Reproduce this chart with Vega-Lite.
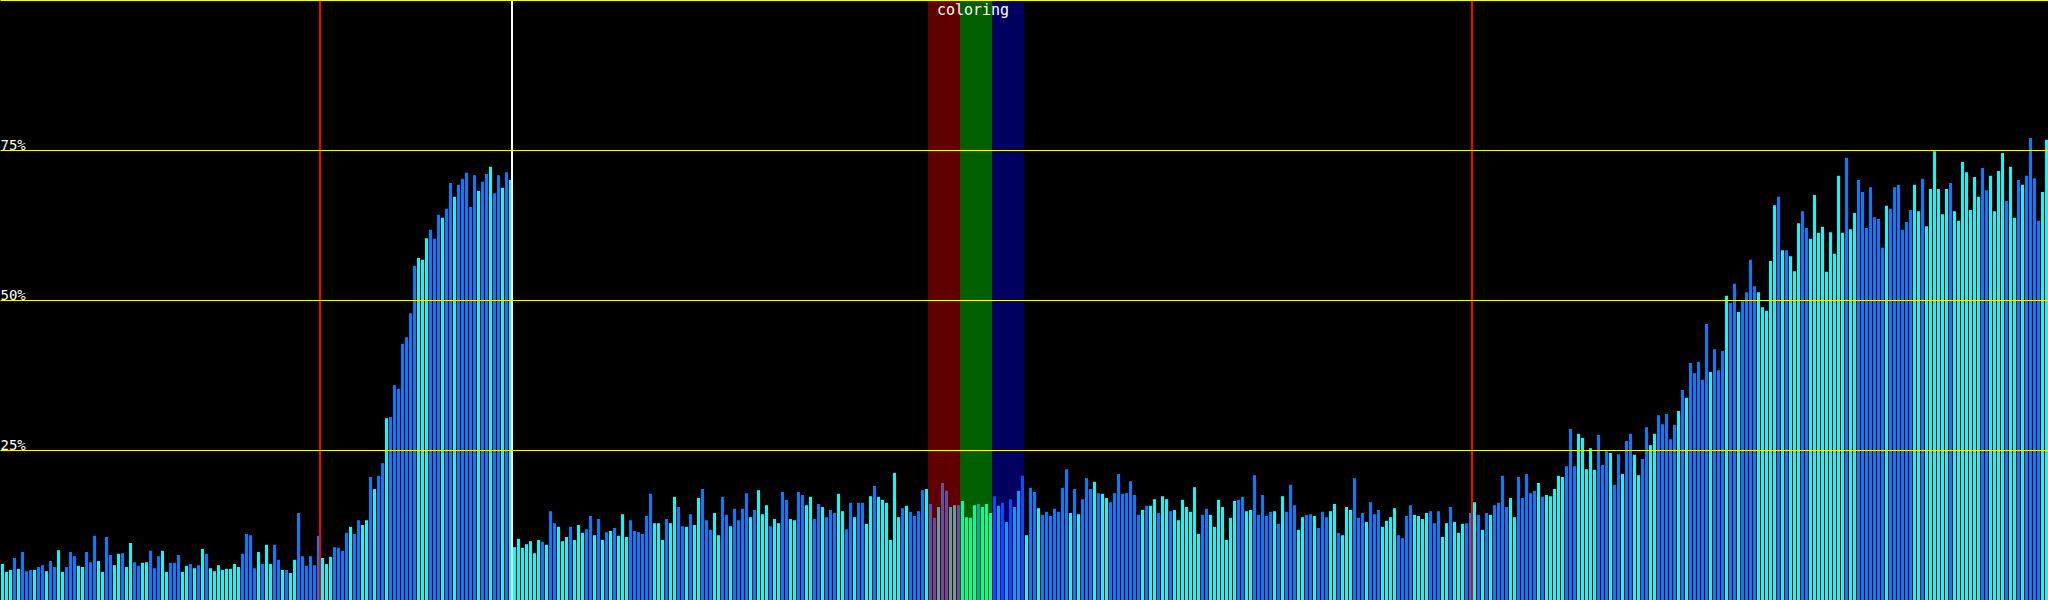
{
"$schema": "https://vega.github.io/schema/vega-lite/v6.json",
"width": 2048, "height": 600, "autosize": {"type": "none"}, "padding": 0,
"background": "#000000",
"config": {"view": {"stroke": null}},
"datasets": {
"bars": [
{"i":0,"v":6.0,"c":"C"},{"i":1,"v":4.7,"c":"C"},{"i":2,"v":5.0,"c":"C"},{"i":3,"v":7.0,"c":"B"},{"i":4,"v":5.2,"c":"C"},{"i":5,"v":8.0,"c":"B"},{"i":6,"v":4.8,"c":"B"},{"i":7,"v":5.0,"c":"B"},{"i":8,"v":5.0,"c":"C"},{"i":9,"v":5.5,"c":"B"},
{"i":10,"v":5.8,"c":"B"},{"i":11,"v":4.8,"c":"C"},{"i":12,"v":6.5,"c":"B"},{"i":13,"v":5.5,"c":"B"},{"i":14,"v":8.3,"c":"C"},{"i":15,"v":4.7,"c":"C"},{"i":16,"v":5.5,"c":"B"},{"i":17,"v":8.0,"c":"B"},{"i":18,"v":7.3,"c":"B"},{"i":19,"v":5.7,"c":"C"},
{"i":20,"v":5.5,"c":"C"},{"i":21,"v":8.0,"c":"B"},{"i":22,"v":6.3,"c":"B"},{"i":23,"v":10.7,"c":"B"},{"i":24,"v":6.5,"c":"C"},{"i":25,"v":4.7,"c":"C"},{"i":26,"v":10.5,"c":"B"},{"i":27,"v":7.5,"c":"B"},{"i":28,"v":5.8,"c":"C"},{"i":29,"v":7.7,"c":"C"},
{"i":30,"v":7.8,"c":"B"},{"i":31,"v":5.5,"c":"C"},{"i":32,"v":9.5,"c":"C"},{"i":33,"v":6.3,"c":"B"},{"i":34,"v":5.7,"c":"B"},{"i":35,"v":6.2,"c":"C"},{"i":36,"v":6.3,"c":"C"},{"i":37,"v":8.2,"c":"B"},{"i":38,"v":5.3,"c":"B"},{"i":39,"v":7.3,"c":"B"},
{"i":40,"v":8.2,"c":"C"},{"i":41,"v":4.7,"c":"C"},{"i":42,"v":6.2,"c":"B"},{"i":43,"v":6.2,"c":"B"},{"i":44,"v":7.5,"c":"B"},{"i":45,"v":4.7,"c":"C"},{"i":46,"v":5.7,"c":"C"},{"i":47,"v":6.0,"c":"B"},{"i":48,"v":5.3,"c":"C"},{"i":49,"v":5.8,"c":"B"},
{"i":50,"v":8.5,"c":"C"},{"i":51,"v":7.7,"c":"B"},{"i":52,"v":5.3,"c":"C"},{"i":53,"v":4.8,"c":"C"},{"i":54,"v":5.8,"c":"C"},{"i":55,"v":5.0,"c":"C"},{"i":56,"v":5.2,"c":"C"},{"i":57,"v":5.2,"c":"C"},{"i":58,"v":6.0,"c":"C"},{"i":59,"v":5.5,"c":"C"},
{"i":60,"v":7.7,"c":"B"},{"i":61,"v":11.0,"c":"B"},{"i":62,"v":10.8,"c":"B"},{"i":63,"v":5.3,"c":"B"},{"i":64,"v":8.0,"c":"C"},{"i":65,"v":6.0,"c":"B"},{"i":66,"v":9.2,"c":"C"},{"i":67,"v":6.0,"c":"C"},{"i":68,"v":9.2,"c":"B"},{"i":69,"v":6.7,"c":"B"},
{"i":70,"v":5.0,"c":"C"},{"i":71,"v":5.0,"c":"B"},{"i":72,"v":4.5,"c":"C"},{"i":73,"v":6.7,"c":"C"},{"i":74,"v":14.5,"c":"B"},{"i":75,"v":7.3,"c":"B"},{"i":76,"v":5.7,"c":"B"},{"i":77,"v":7.3,"c":"B"},{"i":78,"v":5.8,"c":"B"},{"i":79,"v":10.7,"c":"B"},
{"i":80,"v":7.0,"c":"C"},{"i":81,"v":6.0,"c":"C"},{"i":82,"v":7.2,"c":"C"},{"i":83,"v":8.8,"c":"B"},{"i":84,"v":8.7,"c":"B"},{"i":85,"v":8.2,"c":"B"},{"i":86,"v":11.2,"c":"B"},{"i":87,"v":12.2,"c":"C"},{"i":88,"v":11.0,"c":"B"},{"i":89,"v":13.3,"c":"B"},
{"i":90,"v":12.5,"c":"C"},{"i":91,"v":13.3,"c":"C"},{"i":92,"v":20.5,"c":"B"},{"i":93,"v":18.5,"c":"C"},{"i":94,"v":20.7,"c":"B"},{"i":95,"v":22.8,"c":"B"},{"i":96,"v":30.3,"c":"C"},{"i":97,"v":30.5,"c":"B"},{"i":98,"v":35.8,"c":"B"},{"i":99,"v":35.2,"c":"B"},
{"i":100,"v":42.7,"c":"B"},{"i":101,"v":43.8,"c":"B"},{"i":102,"v":47.8,"c":"B"},{"i":103,"v":55.7,"c":"B"},{"i":104,"v":57.0,"c":"C"},{"i":105,"v":56.7,"c":"C"},{"i":106,"v":60.3,"c":"C"},{"i":107,"v":61.7,"c":"B"},{"i":108,"v":60.2,"c":"B"},{"i":109,"v":64.2,"c":"B"},
{"i":110,"v":63.7,"c":"C"},{"i":111,"v":65.2,"c":"B"},{"i":112,"v":69.5,"c":"B"},{"i":113,"v":67.2,"c":"C"},{"i":114,"v":69.2,"c":"B"},{"i":115,"v":70.2,"c":"B"},{"i":116,"v":71.2,"c":"B"},{"i":117,"v":65.5,"c":"B"},{"i":118,"v":70.8,"c":"B"},{"i":119,"v":68.2,"c":"C"},
{"i":120,"v":69.7,"c":"B"},{"i":121,"v":71.0,"c":"B"},{"i":122,"v":72.2,"c":"C"},{"i":123,"v":67.8,"c":"B"},{"i":124,"v":70.8,"c":"B"},{"i":125,"v":68.7,"c":"C"},{"i":126,"v":71.3,"c":"B"},{"i":127,"v":70.0,"c":"C"},
{"i":128,"v":8.8,"c":"C"},{"i":129,"v":10.2,"c":"C"},{"i":130,"v":8.7,"c":"C"},{"i":131,"v":9.3,"c":"C"},{"i":132,"v":9.8,"c":"C"},{"i":133,"v":7.8,"c":"C"},{"i":134,"v":10.0,"c":"C"},{"i":135,"v":9.7,"c":"B"},{"i":136,"v":9.2,"c":"C"},{"i":137,"v":14.8,"c":"B"},
{"i":138,"v":12.8,"c":"B"},{"i":139,"v":12.2,"c":"C"},{"i":140,"v":9.8,"c":"C"},{"i":141,"v":10.5,"c":"C"},{"i":142,"v":12.2,"c":"B"},{"i":143,"v":10.0,"c":"C"},{"i":144,"v":12.5,"c":"C"},{"i":145,"v":11.2,"c":"C"},{"i":146,"v":11.8,"c":"B"},{"i":147,"v":14.0,"c":"B"},
{"i":148,"v":10.8,"c":"C"},{"i":149,"v":13.5,"c":"B"},{"i":150,"v":10.0,"c":"C"},{"i":151,"v":11.3,"c":"B"},{"i":152,"v":11.5,"c":"C"},{"i":153,"v":12.0,"c":"B"},{"i":154,"v":10.7,"c":"C"},{"i":155,"v":14.3,"c":"C"},{"i":156,"v":10.5,"c":"C"},{"i":157,"v":13.3,"c":"B"},
{"i":158,"v":11.5,"c":"B"},{"i":159,"v":11.3,"c":"B"},{"i":160,"v":11.0,"c":"B"},{"i":161,"v":14.0,"c":"B"},{"i":162,"v":17.7,"c":"B"},{"i":163,"v":12.8,"c":"C"},{"i":164,"v":12.8,"c":"C"},{"i":165,"v":10.0,"c":"C"},{"i":166,"v":13.5,"c":"B"},{"i":167,"v":12.8,"c":"C"},
{"i":168,"v":17.2,"c":"C"},{"i":169,"v":15.5,"c":"B"},{"i":170,"v":12.3,"c":"B"},{"i":171,"v":12.2,"c":"C"},{"i":172,"v":14.3,"c":"B"},{"i":173,"v":12.5,"c":"C"},{"i":174,"v":17.0,"c":"C"},{"i":175,"v":18.5,"c":"B"},{"i":176,"v":13.3,"c":"B"},{"i":177,"v":11.7,"c":"B"},
{"i":178,"v":14.5,"c":"C"},{"i":179,"v":10.8,"c":"C"},{"i":180,"v":17.2,"c":"B"},{"i":181,"v":14.2,"c":"B"},{"i":182,"v":12.3,"c":"C"},{"i":183,"v":15.2,"c":"B"},{"i":184,"v":13.3,"c":"B"},{"i":185,"v":15.2,"c":"B"},{"i":186,"v":17.8,"c":"B"},{"i":187,"v":13.8,"c":"C"},
{"i":188,"v":15.0,"c":"B"},{"i":189,"v":18.3,"c":"C"},{"i":190,"v":14.3,"c":"C"},{"i":191,"v":15.8,"c":"C"},{"i":192,"v":12.3,"c":"B"},{"i":193,"v":13.5,"c":"C"},{"i":194,"v":12.8,"c":"C"},{"i":195,"v":18.0,"c":"B"},{"i":196,"v":16.7,"c":"B"},{"i":197,"v":13.5,"c":"C"},
{"i":198,"v":13.3,"c":"C"},{"i":199,"v":18.0,"c":"B"},{"i":200,"v":17.5,"c":"B"},{"i":201,"v":15.8,"c":"C"},{"i":202,"v":17.2,"c":"C"},{"i":203,"v":13.5,"c":"B"},{"i":204,"v":16.0,"c":"B"},{"i":205,"v":15.5,"c":"C"},{"i":206,"v":13.8,"c":"B"},{"i":207,"v":15.0,"c":"B"},
{"i":208,"v":14.5,"c":"B"},{"i":209,"v":17.7,"c":"C"},{"i":210,"v":14.8,"c":"C"},{"i":211,"v":11.8,"c":"B"},{"i":212,"v":16.2,"c":"B"},{"i":213,"v":13.8,"c":"C"},{"i":214,"v":16.2,"c":"B"},{"i":215,"v":16.2,"c":"B"},{"i":216,"v":12.7,"c":"C"},{"i":217,"v":17.3,"c":"C"},
{"i":218,"v":19.0,"c":"B"},{"i":219,"v":17.2,"c":"C"},{"i":220,"v":16.7,"c":"C"},{"i":221,"v":16.2,"c":"C"},{"i":222,"v":10.0,"c":"C"},{"i":223,"v":21.2,"c":"C"},{"i":224,"v":13.8,"c":"C"},{"i":225,"v":15.3,"c":"B"},{"i":226,"v":15.7,"c":"C"},{"i":227,"v":14.7,"c":"B"},
{"i":228,"v":14.0,"c":"B"},{"i":229,"v":14.8,"c":"B"},{"i":230,"v":18.3,"c":"B"},{"i":231,"v":18.5,"c":"C"},{"i":232,"v":16.0,"c":"B"},{"i":233,"v":13.7,"c":"B"},{"i":234,"v":15.5,"c":"C"},{"i":235,"v":19.5,"c":"B"},{"i":236,"v":18.2,"c":"B"},{"i":237,"v":15.5,"c":"C"},
{"i":238,"v":15.8,"c":"C"},{"i":239,"v":15.8,"c":"B"},{"i":240,"v":16.5,"c":"C"},{"i":241,"v":13.8,"c":"C"},{"i":242,"v":13.7,"c":"C"},{"i":243,"v":15.8,"c":"C"},{"i":244,"v":16.0,"c":"B"},{"i":245,"v":15.5,"c":"C"},{"i":246,"v":16.0,"c":"C"},{"i":247,"v":14.5,"c":"C"},
{"i":248,"v":17.3,"c":"B"},{"i":249,"v":15.7,"c":"C"},{"i":250,"v":16.2,"c":"B"},{"i":251,"v":13.0,"c":"C"},{"i":252,"v":16.8,"c":"B"},{"i":253,"v":15.5,"c":"C"},{"i":254,"v":18.2,"c":"C"},{"i":255,"v":20.7,"c":"B"},
{"i":256,"v":10.8,"c":"C"},{"i":257,"v":18.7,"c":"B"},{"i":258,"v":18.0,"c":"B"},{"i":259,"v":15.3,"c":"C"},{"i":260,"v":14.2,"c":"B"},{"i":261,"v":14.7,"c":"B"},{"i":262,"v":14.0,"c":"B"},{"i":263,"v":15.2,"c":"B"},{"i":264,"v":14.7,"c":"B"},{"i":265,"v":18.7,"c":"B"},
{"i":266,"v":21.8,"c":"B"},{"i":267,"v":14.5,"c":"C"},{"i":268,"v":18.5,"c":"B"},{"i":269,"v":14.3,"c":"C"},{"i":270,"v":16.8,"c":"B"},{"i":271,"v":20.3,"c":"B"},{"i":272,"v":18.5,"c":"B"},{"i":273,"v":19.7,"c":"C"},{"i":274,"v":17.8,"c":"B"},{"i":275,"v":17.7,"c":"C"},
{"i":276,"v":17.0,"c":"C"},{"i":277,"v":16.3,"c":"B"},{"i":278,"v":17.8,"c":"B"},{"i":279,"v":21.0,"c":"B"},{"i":280,"v":17.7,"c":"B"},{"i":281,"v":17.8,"c":"B"},{"i":282,"v":19.8,"c":"B"},{"i":283,"v":17.5,"c":"B"},{"i":284,"v":14.2,"c":"B"},{"i":285,"v":15.0,"c":"C"},
{"i":286,"v":15.7,"c":"B"},{"i":287,"v":15.7,"c":"C"},{"i":288,"v":16.8,"c":"C"},{"i":289,"v":14.5,"c":"B"},{"i":290,"v":17.3,"c":"C"},{"i":291,"v":16.8,"c":"C"},{"i":292,"v":14.8,"c":"B"},{"i":293,"v":15.0,"c":"C"},{"i":294,"v":13.3,"c":"C"},{"i":295,"v":16.7,"c":"C"},
{"i":296,"v":15.5,"c":"C"},{"i":297,"v":14.7,"c":"C"},{"i":298,"v":18.8,"c":"C"},{"i":299,"v":11.0,"c":"C"},{"i":300,"v":14.2,"c":"B"},{"i":301,"v":15.2,"c":"B"},{"i":302,"v":14.2,"c":"C"},{"i":303,"v":12.2,"c":"C"},{"i":304,"v":16.7,"c":"C"},{"i":305,"v":15.5,"c":"C"},
{"i":306,"v":10.0,"c":"C"},{"i":307,"v":13.7,"c":"C"},{"i":308,"v":16.5,"c":"C"},{"i":309,"v":16.7,"c":"B"},{"i":310,"v":17.2,"c":"B"},{"i":311,"v":14.8,"c":"C"},{"i":312,"v":15.0,"c":"C"},{"i":313,"v":20.8,"c":"B"},{"i":314,"v":14.2,"c":"B"},{"i":315,"v":17.5,"c":"B"},
{"i":316,"v":14.0,"c":"B"},{"i":317,"v":14.7,"c":"B"},{"i":318,"v":14.8,"c":"C"},{"i":319,"v":12.7,"c":"B"},{"i":320,"v":17.3,"c":"C"},{"i":321,"v":14.7,"c":"B"},{"i":322,"v":19.2,"c":"B"},{"i":323,"v":15.8,"c":"B"},{"i":324,"v":11.7,"c":"C"},{"i":325,"v":13.8,"c":"C"},
{"i":326,"v":14.2,"c":"B"},{"i":327,"v":14.3,"c":"B"},{"i":328,"v":14.0,"c":"C"},{"i":329,"v":12.0,"c":"B"},{"i":330,"v":14.7,"c":"B"},{"i":331,"v":13.8,"c":"B"},{"i":332,"v":14.8,"c":"C"},{"i":333,"v":16.0,"c":"C"},{"i":334,"v":11.2,"c":"B"},{"i":335,"v":10.8,"c":"C"},
{"i":336,"v":15.5,"c":"C"},{"i":337,"v":15.0,"c":"C"},{"i":338,"v":20.3,"c":"B"},{"i":339,"v":13.7,"c":"B"},{"i":340,"v":14.5,"c":"B"},{"i":341,"v":13.0,"c":"C"},{"i":342,"v":16.3,"c":"B"},{"i":343,"v":14.3,"c":"B"},{"i":344,"v":15.0,"c":"B"},{"i":345,"v":12.2,"c":"C"},
{"i":346,"v":13.2,"c":"C"},{"i":347,"v":13.8,"c":"C"},{"i":348,"v":15.3,"c":"C"},{"i":349,"v":10.8,"c":"B"},{"i":350,"v":10.3,"c":"B"},{"i":351,"v":14.0,"c":"B"},{"i":352,"v":15.8,"c":"B"},{"i":353,"v":14.2,"c":"C"},{"i":354,"v":14.0,"c":"C"},{"i":355,"v":13.5,"c":"C"},
{"i":356,"v":14.5,"c":"C"},{"i":357,"v":14.8,"c":"B"},{"i":358,"v":12.8,"c":"B"},{"i":359,"v":14.8,"c":"B"},{"i":360,"v":10.5,"c":"C"},{"i":361,"v":12.8,"c":"C"},{"i":362,"v":15.5,"c":"B"},{"i":363,"v":13.0,"c":"C"},{"i":364,"v":11.2,"c":"C"},{"i":365,"v":12.7,"c":"C"},
{"i":366,"v":12.8,"c":"B"},{"i":367,"v":14.5,"c":"B"},{"i":368,"v":16.3,"c":"C"},{"i":369,"v":14.2,"c":"B"},{"i":370,"v":11.7,"c":"C"},{"i":371,"v":14.5,"c":"B"},{"i":372,"v":14.2,"c":"C"},{"i":373,"v":15.8,"c":"B"},{"i":374,"v":16.2,"c":"B"},{"i":375,"v":20.7,"c":"B"},
{"i":376,"v":15.5,"c":"B"},{"i":377,"v":17.0,"c":"C"},{"i":378,"v":13.8,"c":"C"},{"i":379,"v":20.5,"c":"B"},{"i":380,"v":17.0,"c":"B"},{"i":381,"v":21.0,"c":"B"},{"i":382,"v":17.8,"c":"B"},{"i":383,"v":18.2,"c":"B"},
{"i":384,"v":19.5,"c":"C"},{"i":385,"v":17.2,"c":"B"},{"i":386,"v":17.5,"c":"C"},{"i":387,"v":17.3,"c":"C"},{"i":388,"v":18.5,"c":"C"},{"i":389,"v":20.7,"c":"C"},{"i":390,"v":20.5,"c":"C"},{"i":391,"v":22.3,"c":"B"},{"i":392,"v":28.5,"c":"B"},{"i":393,"v":22.3,"c":"B"},
{"i":394,"v":27.7,"c":"C"},{"i":395,"v":27.0,"c":"C"},{"i":396,"v":21.8,"c":"C"},{"i":397,"v":25.3,"c":"C"},{"i":398,"v":21.7,"c":"C"},{"i":399,"v":27.5,"c":"B"},{"i":400,"v":22.5,"c":"B"},{"i":401,"v":24.8,"c":"B"},{"i":402,"v":24.5,"c":"C"},{"i":403,"v":19.2,"c":"B"},
{"i":404,"v":24.3,"c":"B"},{"i":405,"v":21.0,"c":"C"},{"i":406,"v":26.5,"c":"B"},{"i":407,"v":27.7,"c":"B"},{"i":408,"v":24.2,"c":"C"},{"i":409,"v":20.8,"c":"C"},{"i":410,"v":23.5,"c":"B"},{"i":411,"v":28.8,"c":"B"},{"i":412,"v":25.8,"c":"C"},{"i":413,"v":27.7,"c":"C"},
{"i":414,"v":30.8,"c":"B"},{"i":415,"v":29.3,"c":"B"},{"i":416,"v":31.0,"c":"B"},{"i":417,"v":26.8,"c":"B"},{"i":418,"v":29.2,"c":"B"},{"i":419,"v":31.5,"c":"C"},{"i":420,"v":35.0,"c":"B"},{"i":421,"v":33.7,"c":"C"},{"i":422,"v":39.5,"c":"B"},{"i":423,"v":37.8,"c":"B"},
{"i":424,"v":39.7,"c":"B"},{"i":425,"v":36.7,"c":"B"},{"i":426,"v":46.0,"c":"B"},{"i":427,"v":38.0,"c":"C"},{"i":428,"v":41.8,"c":"B"},{"i":429,"v":38.3,"c":"B"},{"i":430,"v":41.5,"c":"B"},{"i":431,"v":50.7,"c":"C"},{"i":432,"v":49.5,"c":"B"},{"i":433,"v":52.7,"c":"B"},
{"i":434,"v":48.0,"c":"C"},{"i":435,"v":49.8,"c":"B"},{"i":436,"v":51.3,"c":"B"},{"i":437,"v":56.7,"c":"B"},{"i":438,"v":52.3,"c":"B"},{"i":439,"v":51.3,"c":"C"},{"i":440,"v":48.8,"c":"C"},{"i":441,"v":48.2,"c":"C"},{"i":442,"v":56.5,"c":"C"},{"i":443,"v":65.8,"c":"C"},
{"i":444,"v":67.2,"c":"B"},{"i":445,"v":58.3,"c":"C"},{"i":446,"v":58.3,"c":"B"},{"i":447,"v":57.3,"c":"C"},{"i":448,"v":54.8,"c":"C"},{"i":449,"v":62.8,"c":"C"},{"i":450,"v":64.8,"c":"B"},{"i":451,"v":62.0,"c":"B"},{"i":452,"v":60.2,"c":"C"},{"i":453,"v":67.5,"c":"C"},
{"i":454,"v":61.2,"c":"C"},{"i":455,"v":62.2,"c":"C"},{"i":456,"v":54.7,"c":"C"},{"i":457,"v":61.3,"c":"C"},{"i":458,"v":57.7,"c":"C"},{"i":459,"v":70.7,"c":"C"},{"i":460,"v":61.2,"c":"C"},{"i":461,"v":73.7,"c":"B"},{"i":462,"v":61.8,"c":"C"},{"i":463,"v":64.5,"c":"C"},
{"i":464,"v":70.0,"c":"B"},{"i":465,"v":68.0,"c":"B"},{"i":466,"v":62.0,"c":"B"},{"i":467,"v":68.8,"c":"B"},{"i":468,"v":63.8,"c":"B"},{"i":469,"v":63.5,"c":"B"},{"i":470,"v":58.7,"c":"B"},{"i":471,"v":65.7,"c":"C"},{"i":472,"v":65.2,"c":"B"},{"i":473,"v":68.8,"c":"B"},
{"i":474,"v":69.2,"c":"B"},{"i":475,"v":61.7,"c":"B"},{"i":476,"v":63.0,"c":"B"},{"i":477,"v":65.0,"c":"B"},{"i":478,"v":69.2,"c":"C"},{"i":479,"v":64.8,"c":"C"},{"i":480,"v":70.2,"c":"B"},{"i":481,"v":62.3,"c":"C"},{"i":482,"v":68.5,"c":"C"},{"i":483,"v":74.8,"c":"C"},
{"i":484,"v":68.5,"c":"C"},{"i":485,"v":64.3,"c":"C"},{"i":486,"v":68.5,"c":"C"},{"i":487,"v":69.5,"c":"B"},{"i":488,"v":64.8,"c":"C"},{"i":489,"v":63.2,"c":"C"},{"i":490,"v":73.0,"c":"C"},{"i":491,"v":71.3,"c":"C"},{"i":492,"v":65.0,"c":"C"},{"i":493,"v":70.5,"c":"C"},
{"i":494,"v":67.2,"c":"C"},{"i":495,"v":72.0,"c":"B"},{"i":496,"v":68.3,"c":"B"},{"i":497,"v":70.7,"c":"C"},{"i":498,"v":64.8,"c":"C"},{"i":499,"v":71.5,"c":"C"},{"i":500,"v":74.5,"c":"C"},{"i":501,"v":66.5,"c":"B"},{"i":502,"v":72.2,"c":"C"},{"i":503,"v":63.7,"c":"C"},
{"i":504,"v":70.0,"c":"B"},{"i":505,"v":69.2,"c":"C"},{"i":506,"v":70.7,"c":"B"},{"i":507,"v":77.0,"c":"B"},{"i":508,"v":70.3,"c":"B"},{"i":509,"v":63.2,"c":"B"},{"i":510,"v":68.0,"c":"C"},{"i":511,"v":76.7,"c":"C"}
]
},
"layer": [
{
"data": {"name": "bars"},
"mark": {"type": "bar", "width": 3, "xOffset": 2.5},
"encoding": {
"x": {"field": "i", "type": "quantitative", "scale": {"domain": [0, 512], "nice": false, "zero": false, "padding": 0}, "axis": null},
"y": {"field": "v", "type": "quantitative", "scale": {"domain": [0, 100], "nice": false},
"axis": {"values": [25, 50, 75, 100], "grid": true, "gridColor": "#ffff00", "gridOpacity": 1, "gridWidth": 1, "ticks": false, "tickSize": 0, "domain": false, "title": null,
"labelAlign": "left", "labelBaseline": "alphabetic", "labelPadding": 0, "labelOffset": -1, "labelColor": "#ffffff", "labelFont": "DejaVu Sans Mono", "labelFontSize": 14,
"labelFlush": false, "labelOverlap": false, "labelBound": false, "labelExpr": "datum.value == 100 ? '' : datum.value + '%'", "zindex": 1}},
"color": {"field": "c", "type": "nominal", "scale": {"domain": ["C", "B"], "range": ["#00ffff", "#0080ff"]}, "legend": null}
}
},
{
"data": {"values": [{"s": 232, "e": 240, "band": "red"}, {"s": 240, "e": 248, "band": "green"}, {"s": 248, "e": 256, "band": "blue"}]},
"mark": {"type": "rect", "opacity": 0.375},
"encoding": {
"x": {"field": "s", "type": "quantitative"},
"x2": {"field": "e"},
"color": {"field": "band", "type": "nominal", "scale": {"domain": ["red", "green", "blue"], "range": ["#ff0000", "#00ff00", "#0000ff"]}, "legend": null}
}
},
{
"data": {"values": [{"i": 80, "kind": "marker"}, {"i": 128, "kind": "cursor"}, {"i": 368, "kind": "marker"}]},
"mark": {"type": "rule", "strokeWidth": 2},
"encoding": {
"x": {"field": "i", "type": "quantitative"},
"color": {"field": "kind", "type": "nominal", "scale": {"domain": ["marker", "cursor"], "range": ["#ff0000", "#ffffff"]}, "legend": null}
}
},
{
"data": {"values": [{"i": 244, "v": 100, "label": "coloring"}]},
"mark": {"type": "text", "align": "center", "baseline": "alphabetic", "dy": 15, "dx": -3, "color": "#ffffff", "font": "DejaVu Sans Mono", "fontSize": 15},
"encoding": {
"x": {"field": "i", "type": "quantitative"},
"y": {"field": "v", "type": "quantitative"},
"text": {"field": "label"}
}
}
],
"resolve": {"scale": {"color": "independent"}}
}
